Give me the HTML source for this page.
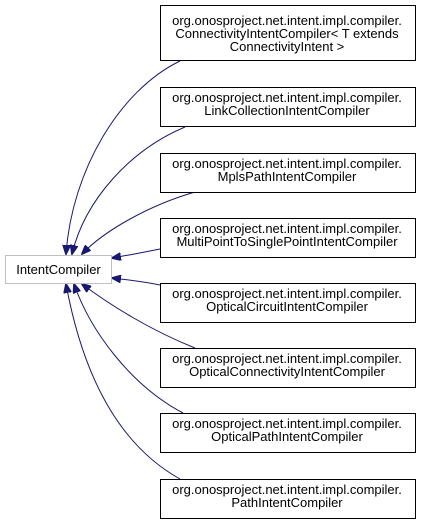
<!DOCTYPE html>
<html><head><style>
body{margin:0;background:#fff;width:421px;height:524px;overflow:hidden;font-family:"Liberation Sans",sans-serif;}
</style></head><body>
<svg width="421" height="524" viewBox="0 0 421 524" xmlns="http://www.w3.org/2000/svg">
<defs><marker id="a" markerWidth="10" markerHeight="8" refX="9" refY="4" orient="auto" markerUnits="userSpaceOnUse"><path d="M0,0 L10,4 L0,8 z" fill="#191970" stroke="#191970"/></marker></defs>
<g fill="none" stroke="#191970" stroke-width="1" marker-end="url(#a)">
<path d="M180,61 C120,90 72,170 66,254"/>
<path d="M185,127 C130,150 85,200 72,254"/>
<path d="M195,192 C150,205 105,230 82,254"/>
<path d="M160,249 C145,252 130,255 112,258"/>
<path d="M160,285 C145,282 130,280 112,278"/>
<path d="M195,348 C150,330 110,305 82,284"/>
<path d="M183,413 C130,385 90,330 74,284"/>
<path d="M180,479 C110,440 80,360 66,284"/>
</g>
<rect x="5.5" y="255.5" width="106" height="28" fill="#fff" stroke="#bfbfbf"/>
<text x="58.5" y="274" font-size="13" text-anchor="middle">IntentCompiler</text>
<g fill="#fff" stroke="#000">
<rect x="160.5" y="5.5" width="255" height="55"/>
<rect x="160.5" y="87.5" width="255" height="39"/>
<rect x="160.5" y="153.5" width="255" height="39"/>
<rect x="160.5" y="218.5" width="255" height="39"/>
<rect x="160.5" y="283.5" width="255" height="39"/>
<rect x="160.5" y="348.5" width="255" height="39"/>
<rect x="160.5" y="413.5" width="255" height="39"/>
<rect x="160.5" y="479.5" width="255" height="39"/>
</g>
<g font-size="13" text-anchor="middle" fill="#000">
<text x="287" y="25">org.onosproject.net.intent.impl.compiler.</text>
<text x="287" y="38">ConnectivityIntentCompiler&lt; T extends</text>
<text x="287" y="51">ConnectivityIntent &gt;</text>
<text x="287" y="102">org.onosproject.net.intent.impl.compiler.</text>
<text x="287" y="115">LinkCollectionIntentCompiler</text>
<text x="287" y="168">org.onosproject.net.intent.impl.compiler.</text>
<text x="287" y="181">MplsPathIntentCompiler</text>
<text x="287" y="233">org.onosproject.net.intent.impl.compiler.</text>
<text x="287" y="246">MultiPointToSinglePointIntentCompiler</text>
<text x="287" y="298">org.onosproject.net.intent.impl.compiler.</text>
<text x="287" y="311">OpticalCircuitIntentCompiler</text>
<text x="287" y="363">org.onosproject.net.intent.impl.compiler.</text>
<text x="287" y="376">OpticalConnectivityIntentCompiler</text>
<text x="287" y="428">org.onosproject.net.intent.impl.compiler.</text>
<text x="287" y="441">OpticalPathIntentCompiler</text>
<text x="287" y="494">org.onosproject.net.intent.impl.compiler.</text>
<text x="287" y="507">PathIntentCompiler</text>
</g>
</svg>
</body></html>
